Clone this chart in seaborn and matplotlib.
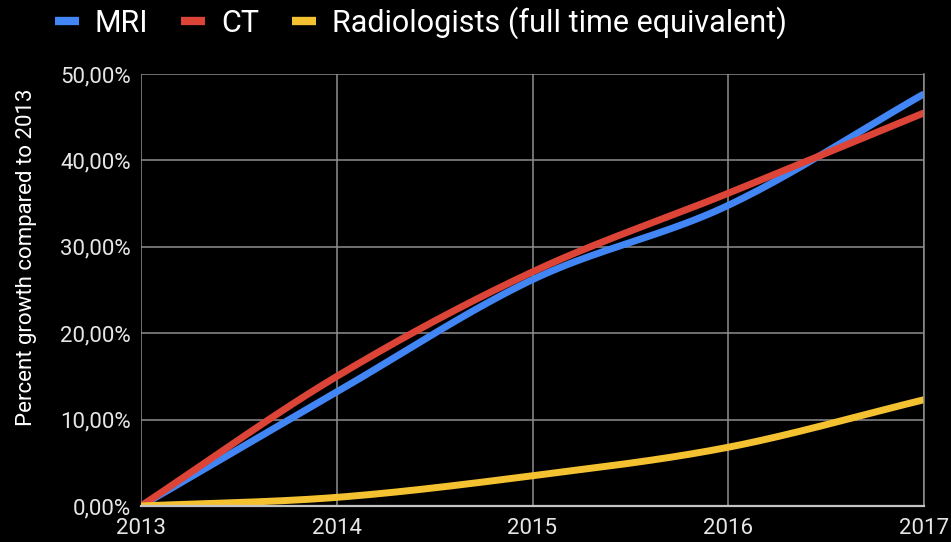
import numpy as np
import pandas as pd
import matplotlib
matplotlib.use("Agg")
import matplotlib.pyplot as plt
import seaborn as sns
from matplotlib.ticker import FuncFormatter
from matplotlib.lines import Line2D

years = [2013, 2014, 2015, 2016, 2017]
mri = [0.0, 13.2, 26.2, 34.8, 47.7]
ct = [0.0, 15.0, 27.1, 36.2, 45.5]
radiologists = [0.0, 1.0, 3.5, 6.8, 12.3]
series_names = ["MRI", "CT", "Radiologists (full time equivalent)"]
colors = ["#4285F4", "#DB4437", "#F4C131"]
yticks = [0, 10, 20, 30, 40, 50]


def smooth(x, y, n=40):
    # cubic Hermite rendering of the line through the data points
    x = np.asarray(x, float)
    y = np.asarray(y, float)
    m = np.zeros_like(y)
    m[1:-1] = (y[2:] - y[:-2]) / (x[2:] - x[:-2])
    m[0] = (y[1] - y[0]) / (x[1] - x[0])
    m[-1] = (y[-1] - y[-2]) / (x[-1] - x[-2])
    xs, ys = [], []
    for i in range(len(x) - 1):
        h = x[i + 1] - x[i]
        t = np.linspace(0, 1, n, endpoint=(i == len(x) - 2))
        h00 = 2 * t**3 - 3 * t**2 + 1
        h10 = t**3 - 2 * t**2 + t
        h01 = -2 * t**3 + 3 * t**2
        h11 = t**3 - t**2
        xs.append(x[i] + t * h)
        ys.append(h00 * y[i] + h10 * h * m[i] + h01 * y[i + 1] + h11 * h * m[i + 1])
    return np.concatenate(xs), np.concatenate(ys)


frames = []
for name, vals in zip(series_names, [mri, ct, radiologists]):
    sx, sy = smooth(years, vals)
    frames.append(pd.DataFrame({"year": sx, "value": sy, "series": name}))
df = pd.concat(frames, ignore_index=True)

sns.set_theme(style="dark")
plt.rcParams["font.family"] = ["Roboto", "DejaVu Sans"]

fig = plt.figure(figsize=(9.51, 5.42), dpi=100, facecolor="black")
ax = fig.add_axes([141 / 951, 1 - 506 / 542, 783 / 951, 432 / 542])
ax.set_facecolor("black")

sns.lineplot(data=df, x="year", y="value", hue="series", palette=dict(zip(series_names, colors)),
             hue_order=series_names, linewidth=5, ax=ax, legend=False, sort=False,
             solid_capstyle="butt")

ax.set_xlim(2013, 2017)
ax.set_ylim(0, 50)
ax.set_xticks(years)
ax.set_xticklabels([str(y) for y in years])
ax.set_yticks(yticks)
ax.yaxis.set_major_formatter(FuncFormatter(lambda v, p: f"{v:.2f}".replace(".", ",") + "%"))
ax.grid(True, color="#8f8f8f", linewidth=1.1)
ax.set_axisbelow(True)
for s in ["top", "left"]:
    ax.spines[s].set_visible(False)
ax.spines["bottom"].set_visible(True)
ax.spines["bottom"].set_color("#c4c4c4")
ax.spines["bottom"].set_linewidth(1.6)
ax.spines["right"].set_visible(True)
ax.spines["right"].set_color("#8f8f8f")
ax.spines["right"].set_linewidth(1.1)
ax.tick_params(axis="both", colors="#e6e6e6", labelsize=16, length=0)
ax.tick_params(axis="y", pad=7.5)
ax.tick_params(axis="x", pad=9)
ax.set_xlabel("")
ax.set_ylabel("Percent growth compared to 2013", color="white", fontsize=16)
ax.yaxis.set_label_coords(-0.133, 0.576)

handles = [Line2D([0], [0], color=c, linewidth=6, solid_capstyle="butt") for c in colors]
leg = fig.legend(handles, series_names, loc="center left", bbox_to_anchor=(55 / 951, 1 - 23 / 542),
                 ncol=3, frameon=False, fontsize=22, handlelength=0.78, handletextpad=0.52,
                 columnspacing=1.08, labelcolor="white", borderpad=0, borderaxespad=0)

fig.savefig("out.png", dpi=100, facecolor="black")
